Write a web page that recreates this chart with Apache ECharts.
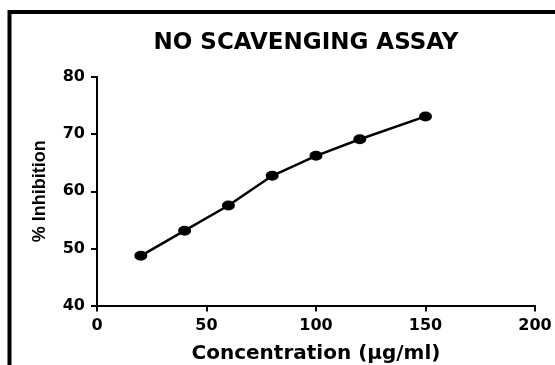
<!DOCTYPE html>
<html>
<head>
<meta charset="utf-8">
<script src="https://cdn.jsdelivr.net/npm/echarts@6/dist/echarts.min.js"></script>
<style>
  html, body { margin: 0; padding: 0; background: #fff; }
  #no-assay-chart { width: 555px; height: 365px; }
</style>
</head>
<body>
<div id="no-assay-chart"></div>
<script>
// 浓度 (μg/ml)
var concentration = [20, 40, 60, 80, 100, 120, 150]
// 抑制率 (%)
var inhibition = [48.7, 53.1, 57.5, 62.7, 66.2, 69.1, 73.1]
var xTicks = [0, 50, 100, 150, 200]
var yTicks = [40, 50, 60, 70, 80]

var points = concentration.map(function (c, i) {
  return [c, inhibition[i]]
})

var myChart = echarts.init(document.getElementById('no-assay-chart'))
var labelFont = {
  color: '#000',
  fontFamily: 'DejaVu Sans',
  fontWeight: 'bold',
  fontSize: 16
}
var option = {
  backgroundColor: '#fff',
  animation: false,
  title: {
    text: 'NO SCAVENGING ASSAY',
    left: 301,
    top: 27,
    textAlign: 'center',
    textStyle: {
      color: '#000',
      fontFamily: 'DejaVu Sans',
      fontWeight: 'bold',
      fontSize: 23
    }
  },
  // 外框（上边和左边）
  graphic: [
    {
      type: 'polyline',
      shape: { points: [[9.5, 365], [9.5, 12], [555, 12]] },
      style: { stroke: '#000', lineWidth: 4, fill: null }
    }
  ],
  grid: {
    left: 97,
    right: 20,
    top: 77,
    bottom: 59.5,
    containLabel: false,
    outerBoundsMode: 'none'
  },
  xAxis: {
    type: 'value',
    min: xTicks[0],
    max: xTicks[xTicks.length - 1],
    interval: 50,
    name: 'Concentration (μg/ml)',
    nameLocation: 'middle',
    nameGap: 38,
    nameTextStyle: {
      color: '#000',
      fontFamily: 'DejaVu Sans',
      fontWeight: 'bold',
      fontSize: 20
    },
    axisLine: { lineStyle: { color: '#000', width: 2 } },
    axisTick: { inside: false, length: 6, lineStyle: { color: '#000', width: 2 } },
    axisLabel: Object.assign({ margin: 12 }, labelFont),
    splitLine: { show: false }
  },
  yAxis: {
    type: 'value',
    min: yTicks[0],
    max: yTicks[yTicks.length - 1],
    interval: 10,
    name: '% Inhibition',
    nameLocation: 'middle',
    nameGap: 48,
    nameTextStyle: {
      color: '#000',
      fontFamily: 'Liberation Sans',
      fontWeight: 'bold',
      fontSize: 18
    },
    axisLine: { show: true, lineStyle: { color: '#000', width: 2 } },
    axisTick: { show: true, inside: false, length: 6, lineStyle: { color: '#000', width: 2 } },
    axisLabel: Object.assign({ margin: 12 }, labelFont),
    splitLine: { show: false }
  },
  series: [
    {
      type: 'line',
      data: points,
      symbol: 'circle',
      symbolSize: [13, 10],
      lineStyle: { color: '#000', width: 2.5 },
      itemStyle: { color: '#000', borderWidth: 0 }
    }
  ]
}
myChart.setOption(option)
window.addEventListener('resize', function () {
  myChart.resize()
})
</script>
</body>
</html>
